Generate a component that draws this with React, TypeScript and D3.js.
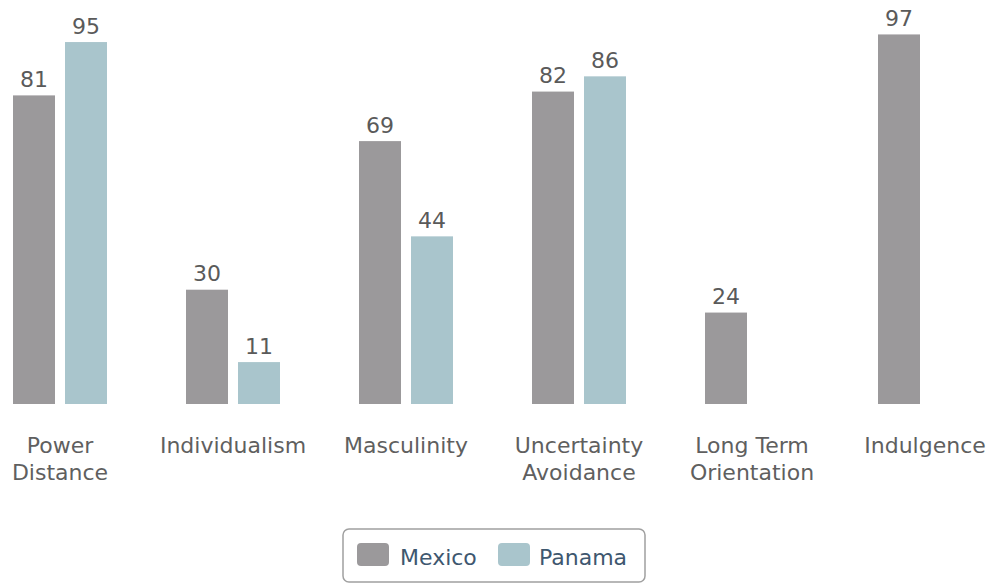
import React from 'react';
import * as d3 from 'd3';

// values
const categories = ['Power Distance', 'Individualism', 'Masculinity', 'Uncertainty Avoidance', 'Long Term Orientation', 'Indulgence'];
const seriesNames = ['Mexico', 'Panama'];
const mexico = [81, 30, 69, 82, 24, 97];
const panama: (number | null)[] = [95, 11, 44, 86, null, null];
const colors = ['#9b999b', '#a9c5cc'];

const width = 993;
const height = 584;
const font = 'DejaVu Sans, Verdana, sans-serif';

// greedy word wrap, measured with a canvas
function wrap(text: string, maxWidth: number): string[] {
  const ctx = document.createElement('canvas').getContext('2d');
  if (!ctx) return [text];
  ctx.font = '22px "DejaVu Sans"';
  const words = text.split(' ');
  const lines: string[] = [];
  let line = '';
  words.forEach(w => {
    const test = line ? line + ' ' + w : w;
    if (line && ctx.measureText(test).width > maxWidth) {
      lines.push(line);
      line = w;
    } else {
      line = test;
    }
  });
  if (line) lines.push(line);
  return lines;
}

export default function App() {
  const x0 = d3.scaleBand<string>().domain(categories).range([-26.5, 1011.5]);
  const groupWidth = 94;
  const x1 = d3.scaleBand<string>().domain(seriesNames).range([0, groupWidth]).paddingInner(0.1923);
  const y = d3.scaleLinear().domain([0, 100]).range([404, 23]);

  const series = [mexico, panama];

  const bars = categories.map((c, i) => {
    const gx = (x0(c) || 0) + x0.bandwidth() / 2 - groupWidth / 2;
    return (
      <g key={c} transform={`translate(${gx},0)`}>
        {seriesNames.map((s, j) => {
          const v = series[j][i];
          if (v == null) return null;
          const bx = x1(s) || 0;
          return (
            <g key={s}>
              <rect x={bx} y={y(v)} width={x1.bandwidth()} height={y(0) - y(v)} fill={colors[j]} />
              <text
                x={bx + x1.bandwidth() / 2}
                y={y(v) - 8.5}
                textAnchor="middle"
                fontSize={22}
                fill="#5a5a5a"
              >
                {v}
              </text>
            </g>
          );
        })}
      </g>
    );
  });

  const labels = categories.map(c => {
    const lines = wrap(c, 155);
    const cx = (x0(c) || 0) + x0.bandwidth() / 2;
    return (
      <text key={c} x={cx} y={453} textAnchor="middle" fontSize={22} fill="#5f5f5f">
        {lines.map((l, k) => (
          <tspan key={k} x={cx} dy={k === 0 ? 0 : 27}>
            {l}
          </tspan>
        ))}
      </text>
    );
  });

  // legend
  const legendItems = [
    { name: seriesNames[0], color: colors[0], sx: 357, tx: 400 },
    { name: seriesNames[1], color: colors[1], sx: 498, tx: 539 }
  ];

  return (
    <svg
      width={width}
      height={height}
      style={{ position: 'absolute', left: 0, top: 0, fontFamily: font, background: '#fff' }}
    >
      {bars}
      {labels}
      <g>
        <rect x={343} y={529} width={302} height={53} rx={6} fill="#fff" stroke="#a0a0a0" strokeWidth={1.5} />
        {legendItems.map(d => (
          <g key={d.name}>
            <rect x={d.sx} y={543} width={32} height={23} rx={4} fill={d.color} />
            <text x={d.tx} y={565} fontSize={22} fill="#3e576f">
              {d.name}
            </text>
          </g>
        ))}
      </g>
    </svg>
  );
}
